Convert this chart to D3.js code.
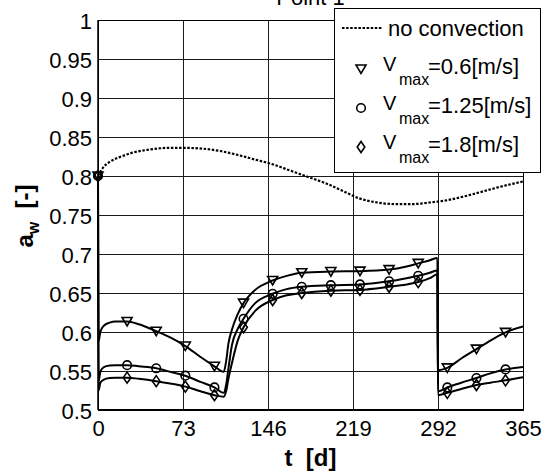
<!DOCTYPE html>
<html><head><meta charset="utf-8">
<script src="https://cdn.jsdelivr.net/npm/d3@7"></script>
<style>
body{margin:0;background:#fff}
svg text{font-family:"Liberation Sans",Arial,Helvetica,sans-serif;fill:#000}
</style>
</head><body>
<svg id="chart" width="547" height="472"></svg>
<script>
// ---- data ----
const tDays = [0,0.5,2,5,10,15,25,35,50,62,75,88,100,108,110,112,115,120,125,135,150,162,175,200,225,250,265,275,285,291.5,292,300,312,325,337,350,365];
const aV06  = [0.8,0.588,0.600,0.608,0.612,0.6135,0.6135,0.610,0.601,0.593,0.582,0.568,0.556,0.549,0.562,0.585,0.603,0.623,0.637,0.654,0.666,0.672,0.676,0.6775,0.678,0.680,0.684,0.688,0.692,0.695,0.551,0.554,0.566,0.578,0.589,0.5995,0.607];
const aV125 = [0.8,0.537,0.549,0.555,0.557,0.5575,0.5575,0.556,0.5535,0.549,0.544,0.536,0.529,0.522,0.532,0.553,0.583,0.604,0.617,0.637,0.649,0.655,0.658,0.660,0.661,0.665,0.669,0.672,0.676,0.679,0.524,0.529,0.535,0.541,0.547,0.552,0.555];
const aV18  = [0.8,0.525,0.535,0.539,0.541,0.5415,0.5415,0.540,0.537,0.534,0.530,0.524,0.519,0.517,0.524,0.540,0.560,0.589,0.606,0.627,0.641,0.647,0.650,0.653,0.654,0.658,0.661,0.664,0.669,0.674,0.519,0.522,0.527,0.532,0.535,0.538,0.542];
const tNoConv = [0,5,10,20,30,45,60,75,90,105,120,135,150,165,180,195,210,225,240,255,270,285,300,315,330,345,365];
const aNoConv = [0.800,0.812,0.818,0.825,0.830,0.834,0.836,0.836,0.835,0.832,0.827,0.821,0.815,0.807,0.799,0.791,0.781,0.771,0.766,0.764,0.764,0.766,0.769,0.774,0.780,0.786,0.793];
const markerDays = [0,25,50,75,100,125,150,175,200,225,250,275,300,325,350];
const xTicks = [0,73,146,219,292,365];
const yTicks = [0.5,0.55,0.6,0.65,0.7,0.75,0.8,0.85,0.9,0.95,1];
const yTickLabels = ["0.5","0.55","0.6","0.65","0.7","0.75","0.8","0.85","0.9","0.95","1"];
const seriesNames = ["=0.6[m/s]","=1.25[m/s]","=1.8[m/s]"];
const markerKinds = ["tri","circ","diam"];
const legendNoConv = "no convection";
const titleText = "Point 1";

// ---- layout ----
const svg = d3.select("#chart");
svg.append("rect").attr("width",547).attr("height",472).attr("fill","#fff");
const L = 98, R = 523, T = 20, B = 410;
const x = d3.scaleLinear().domain([0,365]).range([L,R]);
const y = d3.scaleLinear().domain([0.5,1]).range([B,T]);

// grid
const gx = svg.append("g").attr("transform",`translate(0,${B})`)
  .call(d3.axisBottom(x).tickValues(xTicks).tickSize(-(B-T)).tickFormat(""));
gx.select(".domain").remove();
gx.selectAll("line").attr("stroke","#1a1a1a").attr("stroke-width",1).attr("shape-rendering","crispEdges");
const gy = svg.append("g").attr("transform",`translate(${L},0)`)
  .call(d3.axisLeft(y).tickValues(yTicks).tickSize(-(R-L)).tickFormat(""));
gy.select(".domain").remove();
gy.selectAll("line").attr("stroke","#1a1a1a").attr("stroke-width",1).attr("shape-rendering","crispEdges");

// frame
svg.append("rect").attr("x",L).attr("y",T).attr("width",R-L).attr("height",B-T)
  .attr("fill","none").attr("stroke","#000").attr("stroke-width",1).attr("shape-rendering","crispEdges");
svg.append("line").attr("x1",L).attr("x2",R).attr("y1",B).attr("y2",B).attr("stroke","#000").attr("stroke-width",2);
svg.append("line").attr("x1",L).attr("x2",L).attr("y1",T).attr("y2",B).attr("stroke","#000").attr("stroke-width",1.5);

// tick labels
const ax = svg.append("g").attr("transform",`translate(0,${B})`)
  .call(d3.axisBottom(x).tickValues(xTicks).tickSize(0).tickPadding(10).tickFormat((d,i)=>String(xTicks[i])));
ax.select(".domain").remove();
ax.selectAll("text").attr("font-size",22).attr("font-family",null);
const ay = svg.append("g").attr("transform",`translate(${L},0)`)
  .call(d3.axisLeft(y).tickValues(yTicks).tickSize(0).tickPadding(6).tickFormat((d,i)=>yTickLabels[i]));
ay.select(".domain").remove();
ay.selectAll("text").attr("font-size",22).attr("font-family",null).attr("dy","0.38em");

// lines
const lineNC = d3.line().x((d,i)=>x(tNoConv[i])).y(d=>y(d)).curve(d3.curveMonotoneX);
svg.append("path").attr("d",lineNC(aNoConv)).attr("fill","none").attr("stroke","#000")
  .attr("stroke-width",2.2).attr("stroke-dasharray","2.5,1.6");

const lineS = d3.line().x((d,i)=>x(tDays[i])).y(d=>y(d)).curve(d3.curveMonotoneX);
const allSeries = [aV06,aV125,aV18];
allSeries.forEach(arr=>{
  svg.append("path").attr("d",lineS(arr)).attr("fill","none").attr("stroke","#000")
    .attr("stroke-width",2).attr("stroke-linejoin","round");
});

function markerPath(kind){
  if(kind==="tri") return "M-5,-4L5,-4L0,4.5Z";
  if(kind==="circ") return d3.symbol().type(d3.symbolCircle).size(Math.PI*4.3*4.3)();
  return "M0,-5.5L3.8,0L0,5.5L-3.8,0Z";
}
allSeries.forEach((arr,si)=>{
  const pts = markerDays.map(t=>[t, arr[tDays.indexOf(t)]]);
  svg.append("g").selectAll("path").data(pts).join("path")
    .attr("d",markerPath(markerKinds[si]))
    .attr("transform",d=>`translate(${x(d[0])},${y(d[1])})`)
    .attr("fill","none").attr("stroke","#000").attr("stroke-width",1.6);
});

// axis titles
svg.append("text").attr("x",(L+R)/2).attr("y",466).attr("text-anchor","middle")
  .attr("font-size",24).attr("font-weight","bold").attr("xml:space","preserve").style("white-space","pre")
  .text("t  [d]");
const yl = svg.append("text").attr("transform","translate(33,216) rotate(-90)")
  .attr("text-anchor","middle").attr("font-size",24).attr("font-weight","bold").style("white-space","pre");
yl.append("tspan").text("a");
yl.append("tspan").attr("font-size",16).attr("dy",6).text("w");
yl.append("tspan").attr("dy",-6).text("  [-]");

// title (partly above the top edge, as in the reference)
svg.append("text").attr("x",(L+R)/2).attr("y",5).attr("text-anchor","middle").attr("font-size",22).text(titleText);

// legend
const lg = svg.append("g");
lg.append("rect").attr("x",334.5).attr("y",8.5).attr("width",206).attr("height",164)
  .attr("fill","#fff").attr("stroke","#000").attr("stroke-width",1);
lg.append("line").attr("x1",342).attr("x2",382).attr("y1",28).attr("y2",28)
  .attr("stroke","#000").attr("stroke-width",2.2).attr("stroke-dasharray","2.5,1.6");
lg.append("text").attr("x",388).attr("y",36).attr("font-size",22).text(legendNoConv);
seriesNames.forEach((name,i)=>{
  const b = 74 + i*39;
  lg.append("path").attr("d",markerPath(markerKinds[i])).attr("transform",`translate(361,${b-5})`)
    .attr("fill","none").attr("stroke","#000").attr("stroke-width",1.6);
  lg.append("text").attr("x",383).attr("y",b-3).attr("font-size",20).text("V");
  lg.append("text").attr("x",399).attr("y",b+11).attr("font-size",16).text("max");
  lg.append("text").attr("x",428).attr("y",b).attr("font-size",22).text(name);
});
</script>
</body></html>
